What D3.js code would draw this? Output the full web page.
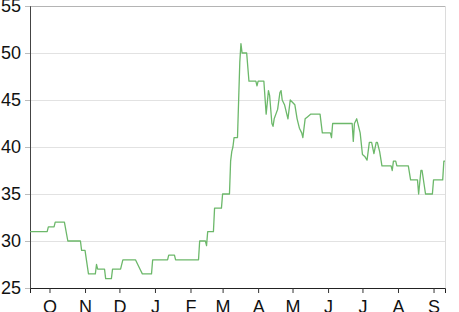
<!DOCTYPE html>
<html><head><meta charset="utf-8">
<script src="https://cdn.jsdelivr.net/npm/d3@7"></script>
<style>
body{margin:0;background:#fff;}
svg{display:block;}
text{font-family:"Liberation Sans",Helvetica,Arial,sans-serif;fill:#111;}
</style></head><body>
<svg id="c" width="459" height="312"></svg>
<script>
const dates = ["2014-09-14","2014-09-29","2014-09-30","2014-10-05","2014-10-06","2014-10-14","2014-10-17","2014-10-28","2014-10-29","2014-11-01","2014-11-04","2014-11-10","2014-11-11","2014-11-12","2014-11-18","2014-11-19","2014-11-24","2014-11-25","2014-12-02","2014-12-04","2014-12-15","2014-12-19","2014-12-21","2014-12-29","2014-12-30","2015-01-12","2015-01-13","2015-01-18","2015-01-19","2015-02-08","2015-02-09","2015-02-14","2015-02-15","2015-02-16","2015-02-21","2015-02-22","2015-02-28","2015-03-01","2015-03-07","2015-03-08","2015-03-09","2015-03-10","2015-03-11","2015-03-14","2015-03-15","2015-03-16","2015-03-17","2015-03-18","2015-03-22","2015-03-24","2015-03-30","2015-03-31","2015-04-01","2015-04-06","2015-04-08","2015-04-10","2015-04-11","2015-04-13","2015-04-14","2015-04-15","2015-04-18","2015-04-20","2015-04-21","2015-04-22","2015-04-24","2015-04-26","2015-04-27","2015-04-29","2015-05-03","2015-05-05","2015-05-07","2015-05-09","2015-05-10","2015-05-12","2015-05-14","2015-05-17","2015-05-25","2015-05-27","2015-06-03","2015-06-04","2015-06-05","2015-06-22","2015-06-23","2015-06-24","2015-06-26","2015-06-29","2015-07-01","2015-07-03","2015-07-05","2015-07-07","2015-07-09","2015-07-11","2015-07-13","2015-07-14","2015-07-16","2015-07-18","2015-07-26","2015-07-27","2015-07-28","2015-07-30","2015-07-31","2015-08-10","2015-08-12","2015-08-18","2015-08-19","2015-08-21","2015-08-22","2015-08-25","2015-08-31","2015-09-01","2015-09-09","2015-09-10","2015-09-11"];
const values = [31,31,31.5,31.5,32,32,30,30,29,29,26.5,26.5,27.5,27,27,26,26,27,27,28,28,27,26.5,26.5,28,28,28.5,28.5,28,28,30,30,29.5,31,31,33.5,33.5,35,35,38.5,39.5,40,41,41,45,49,51,50,50,47,47,46.5,47,47,43.5,46,45.5,42.5,42.2,43,44,45.8,46,45,44.5,43.5,43,45,44.5,43,42,41.5,41,43,43.2,43.5,43.5,41.5,41.5,41,42.5,42.5,40.6,42.5,43,41.5,39.2,39,38.6,40.5,40.5,39.3,40.5,40.5,39.5,38,38,37.5,38.5,38.5,38,38,36.5,36.5,35,37.5,37.5,35,35,36.5,36.5,38.5,38.5];
const yTicks = [25,30,35,40,45,50,55];
const monthLabels = ["O","N","D","J","F","M","A","M","J","J","A","S"];
const xStart = "2014-09-14", xEnd = "2015-09-11";

const parse = d3.utcParse("%Y-%m-%d");
const data = dates.map((d,i)=>({date:parse(d), value:values[i]}));
const svg = d3.select("#c");
const L=30, R=445, T=6, B=288;
const x = d3.scaleUtc().domain([parse(xStart), parse(xEnd)]).range([L,R]);
const y = d3.scaleLinear().domain([25,55]).range([B,T]);

// gridlines
svg.append("g").selectAll("line").data(yTicks.filter(v=>v>25)).join("line")
  .attr("x1",L-5).attr("x2",R).attr("y1",d=>y(d)+0.5).attr("y2",d=>y(d)+0.5)
  .attr("stroke",d=>d===55?"#b4b4b4":"#e2e2e2").attr("stroke-width",1);
// right border
svg.append("line").attr("x1",R+0.5).attr("x2",R+0.5).attr("y1",T).attr("y2",B)
  .attr("stroke","#dcdcdc");

// y axis
const yAxis = svg.append("g").attr("transform",`translate(${L},0)`)
  .call(d3.axisLeft(y).tickValues(yTicks).tickSize(5).tickPadding(4));
yAxis.select(".domain").attr("stroke","#444");
yAxis.selectAll(".tick line").attr("stroke","#bbb");
yAxis.selectAll("text").style("font-size","18px").attr("fill","#111");

// x axis
const months = d3.utcMonth.range(parse("2014-10-01"), parse(xEnd));
const xAxis = svg.append("g").attr("transform",`translate(0,${B})`)
  .call(d3.axisBottom(x).tickValues(months).tickSize(5).tickPadding(7)
    .tickFormat((d,i)=>monthLabels[i]));
xAxis.select(".domain").attr("stroke","#222");
xAxis.selectAll(".tick line").attr("stroke","#333");
xAxis.selectAll("text").style("font-size","18px").attr("fill","#111");

// line
const line = d3.line().x(d=>x(d.date)).y(d=>y(d.value));
svg.append("path").datum(data).attr("d",line)
  .attr("fill","none").attr("stroke","#6cb86a").attr("stroke-width",1.3)
  .attr("stroke-linejoin","round");
</script></body></html>
